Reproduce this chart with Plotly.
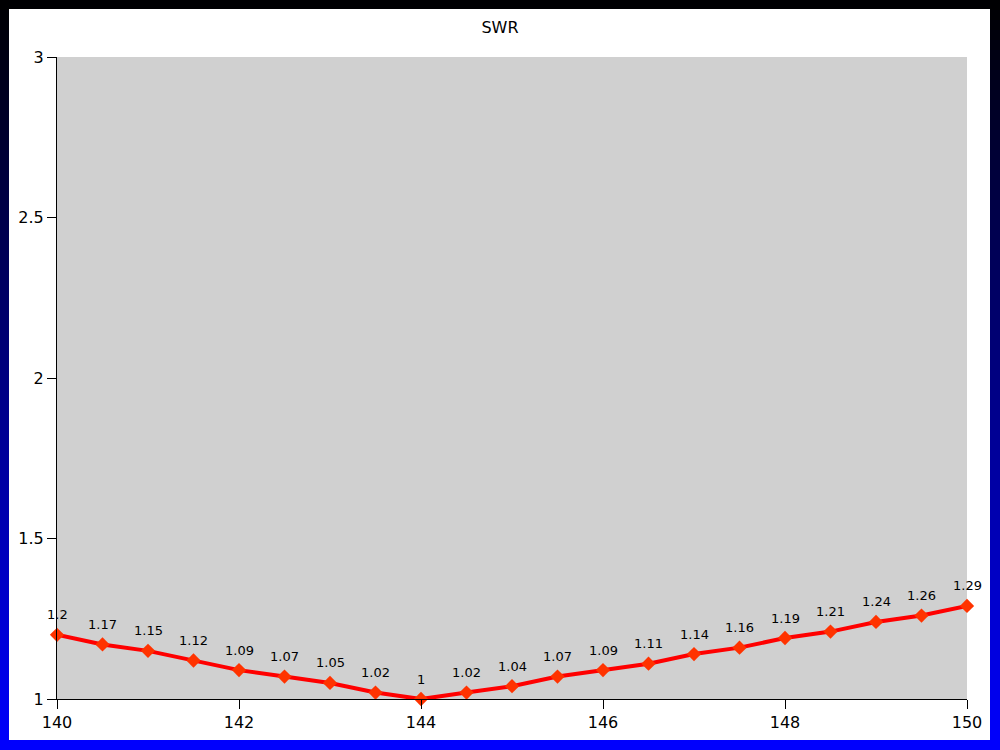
import plotly.graph_objects as go

freq = [140, 140.5, 141, 141.5, 142, 142.5, 143, 143.5, 144, 144.5, 145,
        145.5, 146, 146.5, 147, 147.5, 148, 148.5, 149, 149.5, 150]
swr = [1.2, 1.17, 1.15, 1.12, 1.09, 1.07, 1.05, 1.02, 1.0, 1.02, 1.04,
       1.07, 1.09, 1.11, 1.14, 1.16, 1.19, 1.21, 1.24, 1.26, 1.29]
x_ticks = [140, 142, 144, 146, 148, 150]
y_ticks = [1, 1.5, 2, 2.5, 3]
title = "SWR"

W, H = 1000, 750
ML, MR, MT, MB = 57, 33, 57, 51
PW, PH = W - ML - MR, H - MT - MB

def px_x(p):
    return (p - ML) / PW

def px_y(p):
    return (H - MB - p) / PH

FONT = "DejaVu Sans"

fig = go.Figure()
fig.add_trace(go.Scatter(
    x=freq, y=swr, mode="lines+markers",
    line=dict(color="#ff0000", width=4),
    marker=dict(symbol="diamond", size=11, color="#ff3300"),
    hoverinfo="x+y", showlegend=False,
))

shapes = []
N = 75
for i in range(N):
    t = (i + 0.5) / N
    col = "rgb(0,0,%d)" % round(255 * t)
    shapes.append(dict(type="rect", xref="paper", yref="paper", layer="below",
                       x0=px_x(0), x1=px_x(W), y0=px_y(H * i / N), y1=px_y(H * (i + 1) / N + 0.5),
                       fillcolor=col, line=dict(width=0)))
shapes.append(dict(type="rect", xref="paper", yref="paper", layer="below",
                   x0=px_x(9), x1=px_x(990), y0=px_y(9), y1=px_y(740),
                   fillcolor="white", line=dict(width=0)))
shapes.append(dict(type="rect", xref="paper", yref="paper", layer="below",
                   x0=0, x1=1, y0=0, y1=1,
                   fillcolor="#d0d0d0", line=dict(width=0)))

annotations = [dict(x=xv, y=yv, xref="x", yref="y", text=f"{yv:g}", showarrow=False,
                    yshift=20, font=dict(family=FONT, size=13, color="black"))
               for xv, yv in zip(freq, swr)]

fig.update_layout(
    width=W, height=H,
    margin=dict(l=ML, r=MR, t=MT, b=MB, pad=0),
    paper_bgcolor="white", plot_bgcolor="#d0d0d0",
    title=dict(text=title, x=0.5, xref="container", xanchor="center", y=1 - 27 / H, yanchor="middle",
               font=dict(family=FONT, size=16, color="black")),
    font=dict(family=FONT, size=16, color="black"),
    shapes=shapes, annotations=annotations,
    xaxis=dict(range=[140, 150], tickvals=x_ticks, ticks="outside", ticklen=9, tickcolor="black",
               showline=True, linecolor="black", linewidth=1, showgrid=False, zeroline=False,
               tickfont=dict(family=FONT, size=16)),
    yaxis=dict(range=[1, 3], tickvals=y_ticks, ticktext=[f"{v:g}" for v in y_ticks],
               ticks="outside", ticklen=9, tickcolor="black",
               showline=True, linecolor="black", linewidth=1, showgrid=False, zeroline=False,
               tickfont=dict(family=FONT, size=16)),
)
fig.update_traces(cliponaxis=False)
fig.write_html("out.html", config={"displayModeBar": False},
               post_script="document.body.style.margin='0';document.body.style.overflow='hidden';")
